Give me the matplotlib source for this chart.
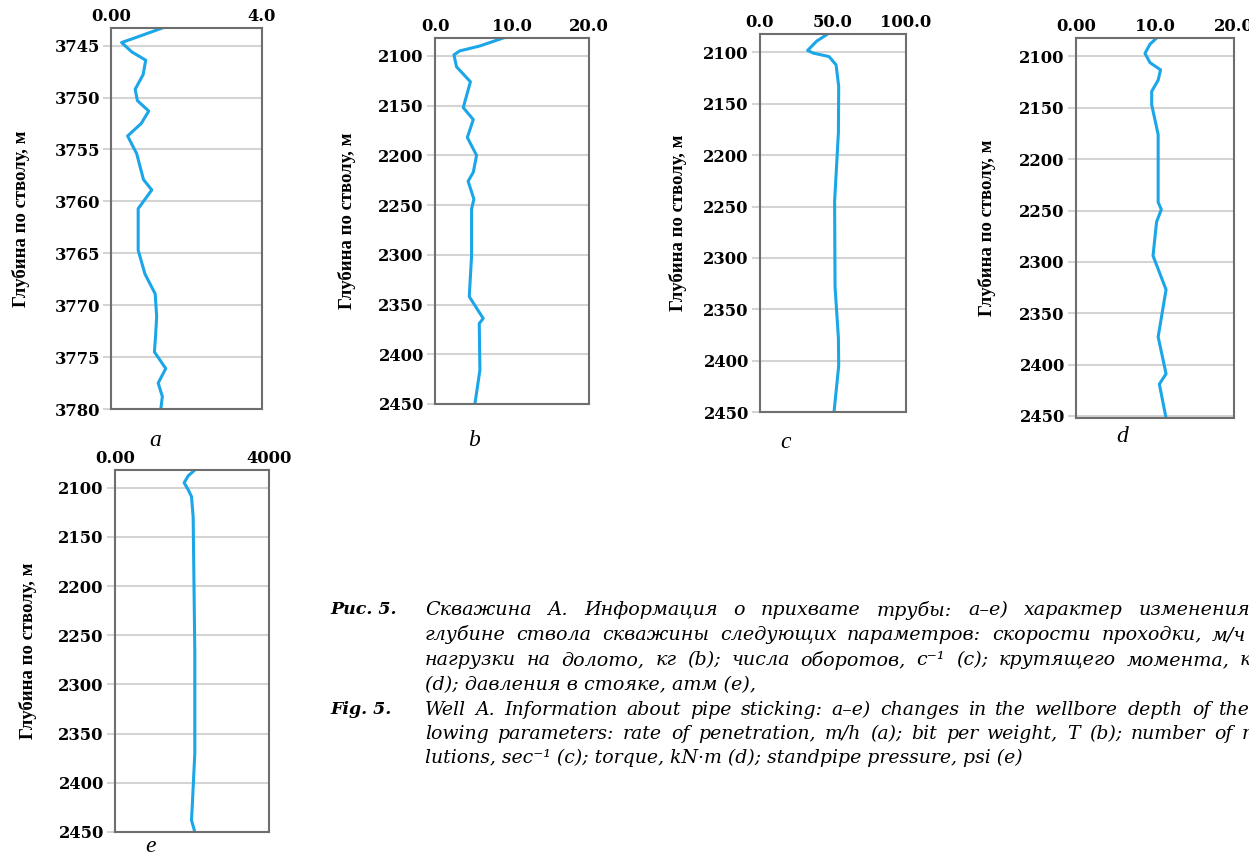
import numpy as np
import matplotlib
matplotlib.use("Agg")
from matplotlib import pyplot as plt
from matplotlib.transforms import ScaledTranslation

# ---- data (value, depth) ----
a_val = [1.36, 0.75, 0.28, 0.55, 0.92, 0.85, 0.64, 0.70, 1.00, 0.80, 0.44, 0.68, 0.86, 1.08, 0.90, 0.72, 0.72, 0.90, 1.17, 1.21, 1.18, 1.15, 1.45, 1.25, 1.36, 1.32]
a_dep = [3743.3, 3744.1, 3744.7, 3745.6, 3746.4, 3747.8, 3749.2, 3750.3, 3751.3, 3752.5, 3753.7, 3755.4, 3757.9, 3758.9, 3759.8, 3760.7, 3764.7, 3767.0, 3768.9, 3771.1, 3773.0, 3774.5, 3776.1, 3777.5, 3778.8, 3780.0]

b_val = [8.86, 5.83, 3.2, 2.46, 2.8, 4.6, 3.67, 4.97, 4.2, 5.4, 4.97, 4.3, 5.05, 4.75, 4.75, 4.45, 6.26, 5.75, 5.83, 5.18]
b_dep = [2082, 2090, 2095, 2099, 2111, 2126, 2152, 2164, 2182, 2200, 2217, 2226, 2244, 2254, 2301, 2342, 2364, 2369, 2416, 2450]

c_val = [46.3, 38.8, 32.6, 36.5, 47.3, 52.1, 53.9, 53.7, 51.1, 51.4, 53.7, 53.9, 50.7]
c_dep = [2082, 2089, 2098, 2100.6, 2104, 2112, 2133, 2178, 2245, 2328, 2378, 2405, 2450]

d_val = [10.2, 9.37, 8.73, 9.37, 10.7, 10.4, 9.58, 9.58, 10.4, 10.4, 10.8, 10.2, 9.75, 11.4, 10.4, 11.4, 10.55, 11.4]
d_dep = [2082, 2088, 2097, 2106, 2113, 2123, 2134, 2147, 2176, 2242, 2249, 2261, 2294, 2327, 2373, 2409, 2419, 2452]

e_val = [2073, 1900, 1796, 1900, 1987, 2030, 2073, 2073, 2010, 1987, 2073]
e_dep = [2082, 2088, 2095, 2102, 2109, 2130, 2267, 2370, 2421, 2438, 2450]

yticks_a = [3745, 3750, 3755, 3760, 3765, 3770, 3775, 3780]
yticks_w = [2100, 2150, 2200, 2250, 2300, 2350, 2400, 2450]

W, H = 1249, 859
fig = plt.figure(figsize=(W / 100, H / 100), dpi=100)

BLUE = "#1ba6e8"
tickfont = dict(family="DejaVu Serif", weight="bold", size=11.8)
labfont = dict(family="Liberation Serif", weight="bold", size=13.5)


def panel(px, val, dep, xlim, xt, xtl, ylim, yt, letter, letter_xy, ylab_x):
    l, t, r, b = px
    ax = fig.add_axes([l / W, 1 - b / H, (r - l) / W, (b - t) / H])
    ax.plot(val, dep, color=BLUE, lw=2.2, solid_joinstyle="round")
    ax.set_xlim(*xlim)
    ax.set_ylim(ylim[1], ylim[0])
    ax.xaxis.tick_top()
    ax.set_xticks(xt)
    ax.set_xticklabels(xtl, fontdict=tickfont)
    # labels in the original sit a little left of their ticks, more so on the right
    for lab, v in zip(ax.get_xticklabels(), xt):
        frac = (v - xlim[0]) / (xlim[1] - xlim[0])
        dx = (3 - 12 * frac) / 100
        lab.set_transform(lab.get_transform() + ScaledTranslation(dx, 0, fig.dpi_scale_trans))
    ax.set_yticks(yt)
    ax.set_yticklabels([str(v) for v in yt], fontdict=tickfont)
    ax.tick_params(axis="x", length=0, pad=2)
    ax.tick_params(axis="y", length=6, color="#d4d4d4", width=1.5, pad=2)
    ax.grid(axis="y", color="#d4d4d4", lw=1.5)
    ax.set_axisbelow(True)
    for s in ax.spines.values():
        s.set_color("#6e6e6e")
        s.set_linewidth(1.5)
    fig.text(ylab_x / W, 1 - ((t + b) / 2) / H, "Глубина по стволу, м", rotation=90,
             ha="center", va="center", **labfont)
    fig.text(letter_xy[0] / W, 1 - letter_xy[1] / H, letter, ha="center", va="center",
             family="Liberation Serif", style="italic", size=17)
    return ax


panel((111, 28, 262, 409), a_val, a_dep, (0, 4), [0, 4], ["0.00", "4.0"],
      (3743.3, 3780), yticks_a, "a", (155, 440), 21)
panel((435, 38, 589, 404), b_val, b_dep, (0, 20), [0, 10, 20], ["0.0", "10.0", "20.0"],
      (2082, 2450), yticks_w, "b", (474, 440), 347)
panel((760, 34, 906, 412), c_val, c_dep, (0, 100), [0, 50, 100], ["0.0", "50.0", "100.0"],
      (2082, 2450), yticks_w, "c", (786, 442), 678)
panel((1076, 38, 1234, 418), d_val, d_dep, (0, 20), [0, 10, 20], ["0.00", "10.0", "20.0"],
      (2082, 2452), yticks_w, "d", (1122, 437), 987)
panel((115, 470, 269, 832), e_val, e_dep, (0, 4000), [0, 4000], ["0.00", "4000"],
      (2082, 2450), yticks_w, "e", (151, 846), 28)

# ---- caption ----
ru_style = dict(family="DejaVu Serif", style="italic", size=13.8, va="center", ha="left")
en_style = dict(family="DejaVu Serif", style="italic", size=13.6, va="center", ha="left")
head = dict(family="DejaVu Serif", style="italic", weight="bold", size=12.5, va="center", ha="left")
fig.text(330 / W, 1 - 610 / H, "Рис. 5.", **head)
fig.text(330 / W, 1 - 710 / H, "Fig. 5.", **head)

ru = ["Скважина А. Информация о прихвате трубы: a–e) характер изменения по",
      "глубине ствола скважины следующих параметров: скорости проходки, м/ч (a);",
      "нагрузки на долото, кг (b); числа оборотов, с⁻¹ (c); крутящего момента, кН·м",
      "(d); давления в стояке, атм (e),"]
en = ["Well A. Information about pipe sticking: a–e) changes in the wellbore depth of the fol-",
      "lowing parameters: rate of penetration, m/h (a); bit per weight, T (b); number of revo-",
      "lutions, sec⁻¹ (c); torque, kN·m (d); standpipe pressure, psi (e)"]

renderer = fig.canvas.get_renderer()
X0, X1 = 425, 1290


def put_line(s, y, style, justify):
    if not justify:
        fig.text(X0 / W, 1 - y / H, s, **style)
        return
    words = s.split(" ")
    arts = [fig.text(0, 1 - y / H, w_, **style) for w_ in words]
    widths = [a_.get_window_extent(renderer).width for a_ in arts]
    gap = max((X1 - X0 - sum(widths)) / (len(words) - 1), 4)
    x = X0
    for a_, w_ in zip(arts, widths):
        a_.set_x(x / W)
        x += w_ + gap


for i, s in enumerate(ru):
    put_line(s, 610 + 25 * i, ru_style, i < 3)
for i, s in enumerate(en):
    put_line(s, 710 + 24 * i, en_style, i < 2)

fig.savefig("out.png", dpi=100)
